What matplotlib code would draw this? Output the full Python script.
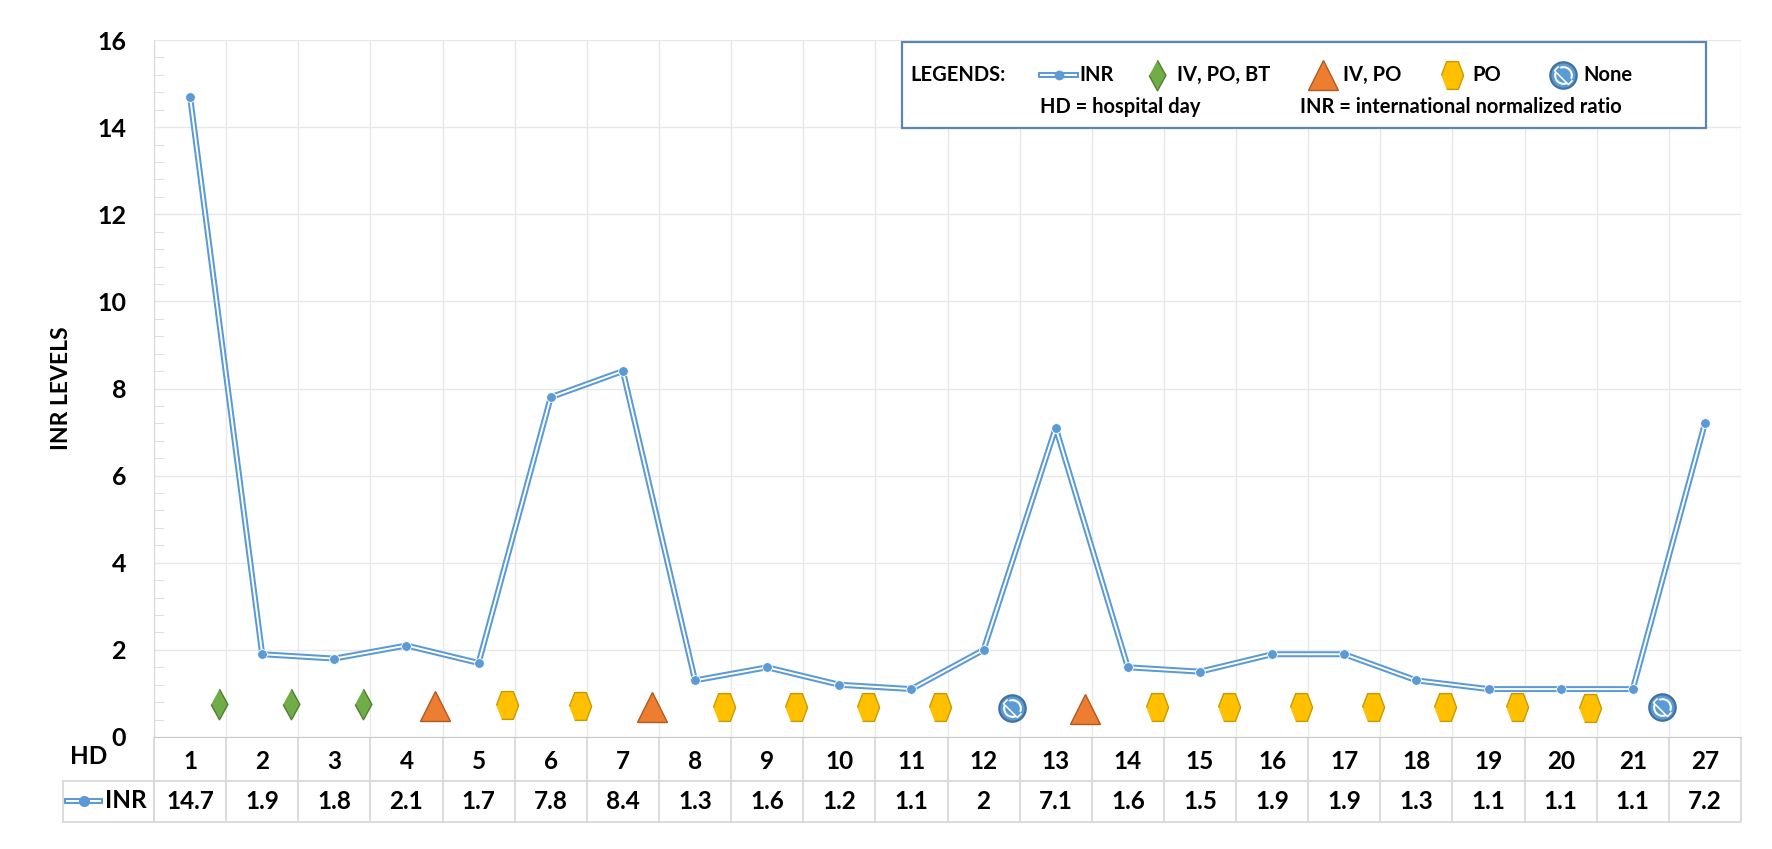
import numpy as np
import matplotlib
matplotlib.use("Agg")
import matplotlib.pyplot as plt
from matplotlib.lines import Line2D
from matplotlib.patches import Rectangle
from matplotlib.ticker import MultipleLocator

# ---- data ----
hd_days = ["1", "2", "3", "4", "5", "6", "7", "8", "9", "10", "11",
           "12", "13", "14", "15", "16", "17", "18", "19", "20", "21", "27"]
inr_values = [14.7, 1.9, 1.8, 2.1, 1.7, 7.8, 8.4, 1.3, 1.6, 1.2, 1.1,
              2.0, 7.1, 1.6, 1.5, 1.9, 1.9, 1.3, 1.1, 1.1, 1.1, 7.2]
# treatment given between consecutive hospital days
treatments = ["IV, PO, BT", "IV, PO, BT", "IV, PO, BT", "IV, PO", "PO", "PO",
              "IV, PO", "PO", "PO", "PO", "PO", "None", "IV, PO", "PO", "PO",
              "PO", "PO", "PO", "PO", "PO", "None"]
treatment_levels = [0.75, 0.75, 0.75, 0.72, 0.74, 0.72, 0.70, 0.68, 0.68, 0.68,
                    0.68, 0.66, 0.64, 0.68, 0.68, 0.69, 0.68, 0.68, 0.68, 0.67, 0.69]

W, H = 1772, 849
BLUE = "#5B9BD5"
GRID = "#E8E8E8"
BORDER = "#D9D9D9"
FONT = "Lato"

plt.rcParams["font.family"] = [FONT, "DejaVu Sans"]
plt.rcParams["font.weight"] = "bold"

diamond = [(0, 1), (0.55, 0), (0, -1), (-0.55, 0)]
hexagon = [(-0.8, 0), (-0.42, 1), (0.42, 1), (0.8, 0), (0.42, -1), (-0.42, -1)]
u = np.array([1, -1]) / np.sqrt(2)
n = np.array([1, 1]) / np.sqrt(2)
slash = [tuple(u + 0.3 * n), tuple(u - 0.3 * n), tuple(-u - 0.3 * n), tuple(-u + 0.3 * n)]

styles = {
    "IV, PO, BT": dict(marker=diamond, ms=22, mfc="#70AD47", mec="#507E32", mew=1.0),
    "IV, PO": dict(marker="^", ms=22, mfc="#ED7D31", mec="#AE5A21", mew=1.0),
    "PO": dict(marker=hexagon, ms=20, mfc="#FFC000", mec="#C99A00", mew=1.0),
}


def fpx(x, y):
    """pixel position -> figure fraction"""
    return x / W, 1 - y / H


def put_marker(artist_host, x, y, kind, **kw):
    if kind == "None":
        parts = [
            dict(marker="o", ms=19, mfc=BLUE, mec="#41719C", mew=1.6),
            dict(marker="o", ms=12, mfc="none", mec="white", mew=1.5),
            dict(marker=slash, ms=13, mfc=BLUE, mec="white", mew=1.1),
        ]
    else:
        parts = [styles[kind]]
    for p in parts:
        artist_host.add_artist(Line2D([x], [y], linestyle="none", **p, **kw))


def double_line(host, xs, ys, **kw):
    host.add_artist(Line2D(xs, ys, color=BLUE, lw=4.3, solid_joinstyle="round", **kw))
    host.add_artist(Line2D(xs, ys, color="white", lw=1.4, solid_joinstyle="round", **kw))


fig = plt.figure(figsize=(W / 100, H / 100), dpi=100)
ax = fig.add_axes([154 / W, 1 - 737 / H, (1741 - 154) / W, 697 / H])

x = np.arange(len(hd_days))
ax.plot(x, inr_values, color=BLUE, lw=4.3, zorder=3)
ax.plot(x, inr_values, color="white", lw=1.4, zorder=4)
ax.plot(x, inr_values, "o", color=BLUE, ms=7, mec="white", mew=0.6, zorder=5)

for i, (kind, lvl) in enumerate(zip(treatments, treatment_levels)):
    put_marker(ax, i + 0.4, lvl, kind, zorder=6)

ax.set_xlim(-0.5, len(hd_days) - 0.5)
ax.set_ylim(0, 16)
ax.set_yticks(np.arange(0, 17, 2))
ax.yaxis.set_minor_locator(MultipleLocator(0.4))
ax.set_xticks(np.arange(-0.5, len(hd_days), 1))
ax.set_xticklabels([])
ax.tick_params(axis="x", length=0)
ax.tick_params(axis="y", which="major", length=0, labelsize=18, pad=20)
ax.tick_params(axis="y", which="minor", direction="in", length=7, color=BORDER)
ax.grid(True, which="major", color=GRID, lw=1.0, zorder=0)
for side in ("top", "right"):
    ax.spines[side].set_visible(False)
ax.spines["left"].set_color(BORDER)
ax.spines["bottom"].set_color("#C8C8C8")
for lab in ax.get_yticklabels():
    lab.set_fontweight("bold")

fig.text(62 / W, 1 - 388 / H, "INR LEVELS", rotation=90, ha="center", va="center",
         fontsize=16.5, fontweight="bold")

# ---- data table under the axis ----
tx = ax.get_xaxis_transform()
r1 = -(781 - 737) / 697
r2 = -(822 - 737) / 697
ax.vlines(np.arange(-0.5, len(hd_days), 1), r2, 0, transform=tx, colors=BORDER,
          lw=1.3, clip_on=False)
ax.hlines([r1, r2], -0.5, len(hd_days) - 0.5, transform=tx, colors=BORDER,
          lw=1.3, clip_on=False)
box_left = (63 - 154) / (1741 - 154)
ax.add_patch(Rectangle((box_left, r2), -box_left, r1 - r2, transform=ax.transAxes,
                       fill=False, ec=BORDER, lw=1.3, clip_on=False))
for i, (day, val) in enumerate(zip(hd_days, inr_values)):
    ax.text(i, r1 / 2 - 0.003, day, transform=tx, ha="center", va="center",
            fontsize=17.5, fontweight="bold")
    ax.text(i, (r1 + r2) / 2, f"{val:g}", transform=tx, ha="center", va="center",
            fontsize=17.5, fontweight="bold")

fig.text(*fpx(70, 757), "HD", ha="left", va="center", fontsize=17.5, fontweight="bold")
icon_y = 1 - 801 / H
double_line(fig, [67 / W, 100 / W], [icon_y, icon_y], transform=fig.transFigure)
fig.add_artist(Line2D([83.5 / W], [icon_y], marker="o", color=BLUE, ms=7,
                      transform=fig.transFigure))
fig.text(*fpx(105, 801), "INR", ha="left", va="center", fontsize=17.5, fontweight="bold")

# ---- legend box ----
fig.add_artist(Rectangle(fpx(902, 128), (1706 - 902) / W, (128 - 42) / H,
                         transform=fig.transFigure, fc="white", ec="#5A86B5", lw=1.6,
                         zorder=10))
row1, row2 = 75, 107
fs = 14.5
fig.text(*fpx(910, row1), "LEGENDS:", ha="left", va="center", fontsize=fs, zorder=11)
ly = 1 - row1 / H
double_line(fig, [1041 / W, 1076 / W], [ly, ly], transform=fig.transFigure, zorder=11)
fig.add_artist(Line2D([1058.5 / W], [ly], marker="o", color=BLUE, ms=6,
                      transform=fig.transFigure, zorder=12))
fig.text(*fpx(1079, row1), "INR", ha="left", va="center", fontsize=fs, zorder=11)
for kind, cx in [("IV, PO, BT", 1157), ("IV, PO", 1323), ("PO", 1452), ("None", 1563)]:
    put_marker(fig, cx / W, ly, kind, transform=fig.transFigure, zorder=12)
    fig.text(*fpx(cx + 20, row1), kind, ha="left", va="center", fontsize=fs, zorder=11)
fig.text(*fpx(1040, row2), "HD = hospital day", ha="left", va="center", fontsize=fs,
         zorder=11)
fig.text(*fpx(1300, row2), "INR = international normalized ratio", ha="left",
         va="center", fontsize=fs, zorder=11)

fig.savefig("out.png", dpi=100)
